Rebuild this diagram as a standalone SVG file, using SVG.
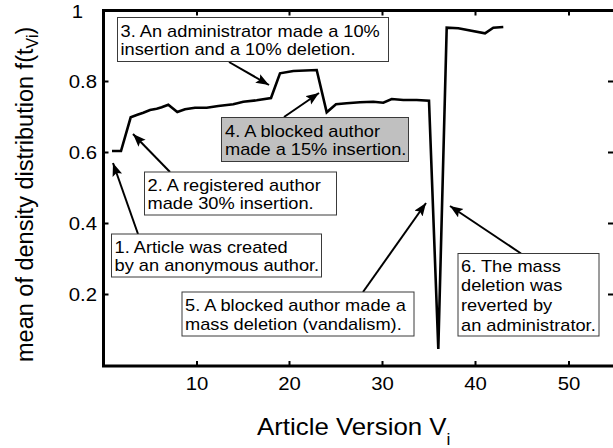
<svg xmlns="http://www.w3.org/2000/svg" width="613" height="448" viewBox="0 0 613 448">
  <style>
    text { font-family: "Liberation Sans", Arial, Helvetica, sans-serif; fill: #000; }
    .tick { font-size: 18px; }
    .label { font-size: 23.5px; }
    .note { font-size: 16px; }
    .axis { stroke: #000; stroke-width: 3; fill: none; stroke-linecap: square; }
    .tk { stroke: #000; stroke-width: 2; }
    .curve { stroke: #000; stroke-width: 2.6; fill: none; stroke-linejoin: miter; stroke-miterlimit: 10; }
    .box { fill: #fff; stroke: #3a3a3a; stroke-width: 1; }
    .box.shade { fill: #c0c0c0; }
    .arrow { stroke: #000; stroke-width: 2; fill: none; marker-end: url(#head); }
  </style>
  <defs>
    <marker id="head" markerUnits="userSpaceOnUse" markerWidth="16" markerHeight="12" refX="13" refY="5" orient="auto" viewBox="0 0 16 12">
      <path d="M0,0 L13,5 L0,10 L2.5,5 z" fill="#000"/>
    </marker>
  </defs>

  <rect width="613" height="448" fill="#fff"/>

  <!-- plot frame, ticks and tick labels -->
  <g id="axes">
    <path class="axis" d="M103.5,10.5 H613 M103.5,10.5 V366 H613"/>
    <!-- left ticks -->
    <path class="tk" d="M103.5,81.5 h5 M103.5,152.5 h5 M103.5,223.5 h5 M103.5,294.5 h5"/>
    <!-- right ticks -->
    <path class="tk" d="M608,81.5 h5 M608,152.5 h5 M608,223.5 h5 M608,294.5 h5"/>
    <!-- top ticks -->
    <path class="tk" d="M197,10.5 v5 M289.5,10.5 v5 M382.5,10.5 v5 M475.5,10.5 v5 M569,10.5 v5"/>
    <!-- bottom ticks -->
    <path class="tk" d="M197,366 v-5 M289.5,366 v-5 M382.5,366 v-5 M475.5,366 v-5 M569,366 v-5"/>

    <g class="tick" text-anchor="end">
      <text transform="translate(83,18) scale(1.13,1)">1</text>
      <text transform="translate(97,88) scale(1.13,1)">0.8</text>
      <text transform="translate(97,159) scale(1.13,1)">0.6</text>
      <text transform="translate(97,230) scale(1.13,1)">0.4</text>
      <text transform="translate(97,301) scale(1.13,1)">0.2</text>
    </g>
    <g class="tick" text-anchor="middle">
      <text transform="translate(197,390) scale(1.13,1)">10</text>
      <text transform="translate(289.5,390) scale(1.13,1)">20</text>
      <text transform="translate(382.5,390) scale(1.13,1)">30</text>
      <text transform="translate(475.5,390) scale(1.13,1)">40</text>
      <text transform="translate(569,390) scale(1.13,1)">50</text>
    </g>

    <text class="label" transform="translate(257,435) scale(1.1,1)">Article Version V<tspan font-size="16" dy="10">i</tspan></text>
    <text class="label" font-size="24.5px" transform="translate(33,362) rotate(-90)">mean of density distribution f(t<tspan font-size="16" dy="5">Vi</tspan><tspan dy="-5">)</tspan></text>
  </g>

  <!-- mean density per article version -->
  <g id="series">
    <polyline class="curve" points="112,151 121,151 130.7,117.3 136.7,115 143.3,112.7 150,110 156.7,108.7 161.7,107.3 168.3,104.7 177.3,112 185,109.3 195,107.7 206.7,107.7 218.3,106 233.3,104.3 243.3,101.7 256.7,100.3 271,98 280,73.3 293.3,71 316.7,70 326.7,112.3 336,104.3 346.7,103.3 360,102.3 373.3,101.7 383.3,102.7 391.7,99 403.3,100 416.7,100 429,100.7 438.3,349 446.7,27.7 458.3,28.3 485,33.3 493.3,27.7 503.3,27"/>
  </g>

  <!-- callout arrows -->
  <g id="connectors">
    <line class="arrow" x1="138" y1="234" x2="113" y2="163"/>
    <line class="arrow" x1="170" y1="172" x2="133" y2="134"/>
    <line class="arrow" x1="229" y1="62" x2="269" y2="85"/>
    <line class="arrow" x1="284" y1="117" x2="319" y2="93"/>
    <line class="arrow" x1="363" y1="292" x2="426" y2="203"/>
    <line class="arrow" x1="521" y1="253.5" x2="450" y2="206"/>
  </g>

  <!-- callout boxes -->
  <g id="note1">
    <rect class="box" x="111.5" y="234" width="210" height="43"/>
    <text class="note" transform="translate(114.5,252.5) scale(1.14,1)"><tspan x="0">1. Article was created</tspan><tspan x="0" dy="19">by an anonymous author.</tspan></text>
  </g>
  <g id="note2">
    <rect class="box" x="144.5" y="172" width="192" height="43"/>
    <text class="note" transform="translate(147.5,190.5) scale(1.14,1)"><tspan x="0">2. A registered author</tspan><tspan x="0" dy="19">made 30% insertion.</tspan></text>
  </g>
  <g id="note3">
    <rect class="box" x="117.5" y="17.5" width="271" height="44"/>
    <text class="note" transform="translate(120.5,36.5) scale(1.14,1)"><tspan x="0">3. An administrator made a 10%</tspan><tspan x="0" dy="19">insertion and a 10% deletion.</tspan></text>
  </g>
  <g id="note4">
    <rect class="box shade" x="221.5" y="117.5" width="187" height="44"/>
    <text class="note" transform="translate(225,136.5) scale(1.14,1)"><tspan x="0">4. A blocked author</tspan><tspan x="0" dy="19">made a 15% insertion.</tspan></text>
  </g>
  <g id="note5">
    <rect class="box" x="182" y="292" width="232" height="44"/>
    <text class="note" transform="translate(185,310.5) scale(1.14,1)"><tspan x="0">5. A blocked author made a</tspan><tspan x="0" dy="19.5">mass deletion (vandalism).</tspan></text>
  </g>
  <g id="note6">
    <rect class="box" x="458" y="253.5" width="141" height="82.5"/>
    <text class="note" transform="translate(461,271.5) scale(1.14,1)"><tspan x="0">6. The mass</tspan><tspan x="0" dy="19.7">deletion was</tspan><tspan x="0" dy="19.7">reverted by</tspan><tspan x="0" dy="19.7">an administrator.</tspan></text>
  </g>
</svg>
